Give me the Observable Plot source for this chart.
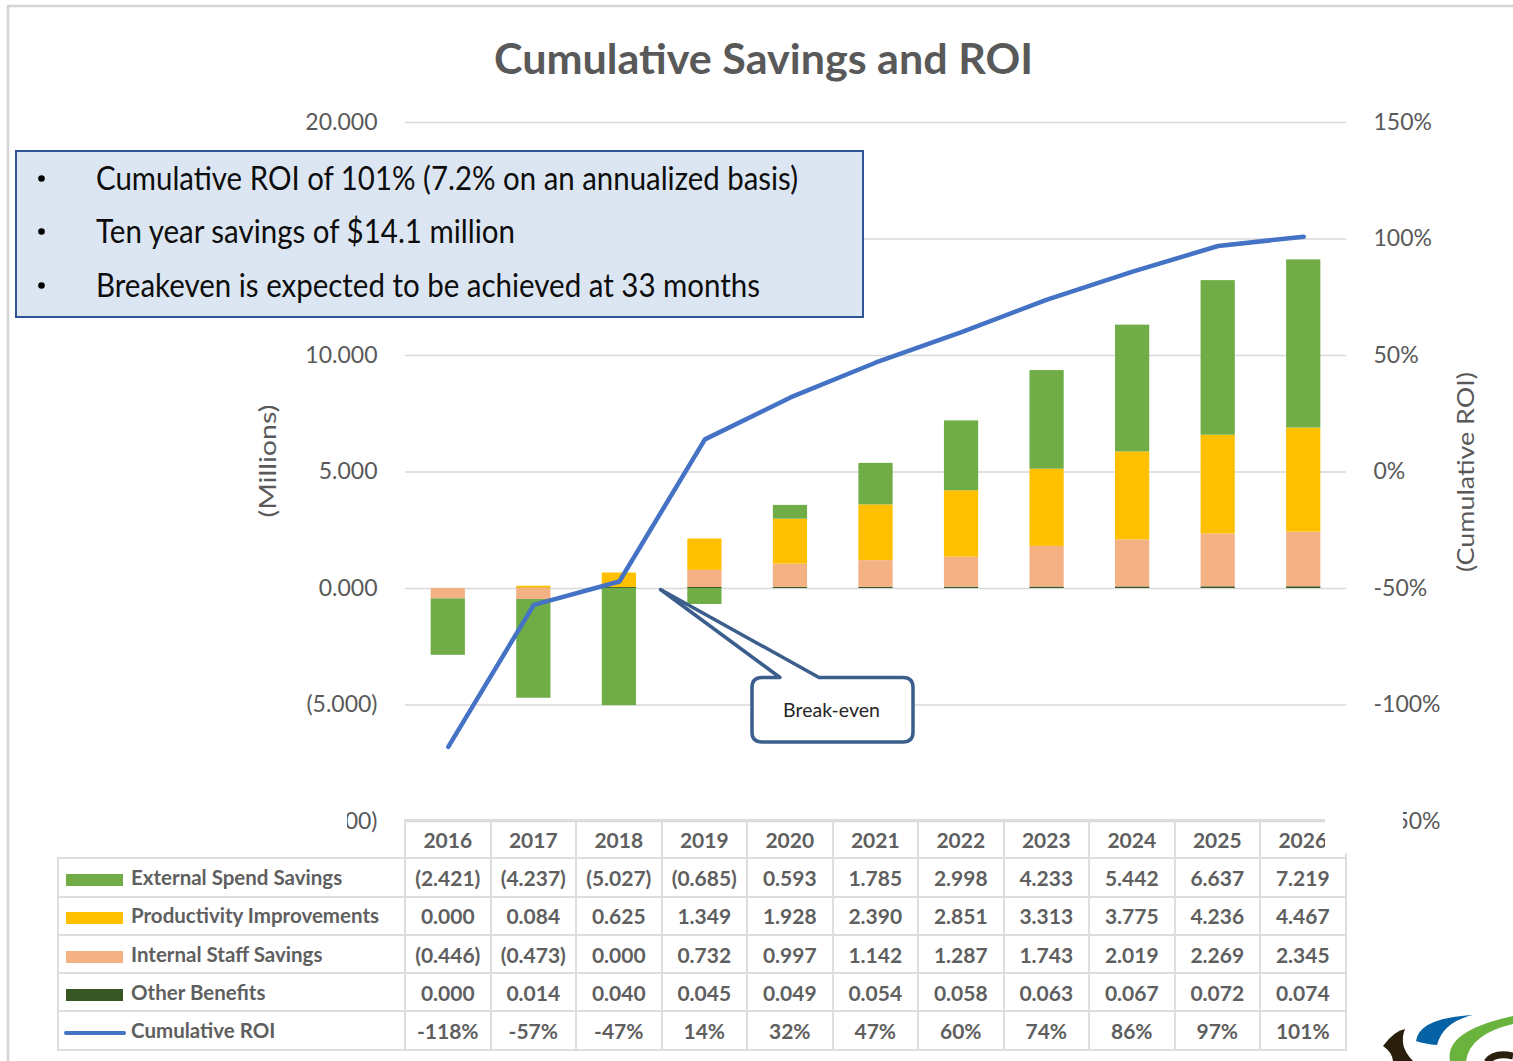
<!DOCTYPE html>
<html>
<head>
<meta charset="utf-8">
<script src="https://cdn.jsdelivr.net/npm/d3@7"></script>
<script src="https://cdn.jsdelivr.net/npm/@observablehq/plot@0.6"></script>
<style>
  body { margin: 0; background: #fff; }
  #wrap { position: relative; width: 1513px; height: 1061px; overflow: hidden; background: #fff; font-family: Lato, "Open Sans", sans-serif; }
  #wrap > svg { position: absolute; left: 0; top: 0; }
  #tbl { position: absolute; left: 57px; top: 819px; border-collapse: collapse; table-layout: fixed; width: 1289px;
         font-family: Lato, "Open Sans", sans-serif; color: #5f5f5f; background: transparent; }
  #tbl td, #tbl th { border: 2px solid #dedede; padding: 0; text-align: center; font-size: 21px; font-weight: 700;
                     white-space: nowrap; overflow: hidden; line-height: 1; }
  #tbl tr { height: 38.3px; }
  #tbl th.blank { border: none; }
  #tbl td.lab { text-align: left; font-size: 20.5px; }
  .sw { display: inline-block; width: 57px; height: 12px; margin-left: 7px; margin-right: 8px; vertical-align: middle; }
  .swl { display: inline-block; width: 62px; height: 4px; border-radius: 2px; margin-left: 5px; margin-right: 5px; vertical-align: middle; }
  #ov { position: absolute; left: 0; top: 0; pointer-events: none; }
</style>
</head>
<body>
<div id="wrap"></div>
<script>
// ---------------- data ----------------
const years = [2016, 2017, 2018, 2019, 2020, 2021, 2022, 2023, 2024, 2025, 2026];
const externalSpendSavings     = [-2.421, -4.237, -5.027, -0.685, 0.593, 1.785, 2.998, 4.233, 5.442, 6.637, 7.219];
const productivityImprovements = [0.000, 0.084, 0.625, 1.349, 1.928, 2.390, 2.851, 3.313, 3.775, 4.236, 4.467];
const internalStaffSavings     = [-0.446, -0.473, 0.000, 0.732, 0.997, 1.142, 1.287, 1.743, 2.019, 2.269, 2.345];
const otherBenefits            = [0.000, 0.014, 0.040, 0.045, 0.049, 0.054, 0.058, 0.063, 0.067, 0.072, 0.074];
const cumulativeROI            = [-118, -57, -47, 14, 32, 47, 60, 74, 86, 97, 101];

const seriesNames  = ["External Spend Savings", "Productivity Improvements", "Internal Staff Savings", "Other Benefits"];
const seriesColors = ["#70ad47", "#ffc000", "#f4b183", "#375623"];
const stackOrder   = ["Other Benefits", "Internal Staff Savings", "Productivity Improvements", "External Spend Savings"];
const roiName  = "Cumulative ROI";
const roiColor = "#4472c4";

const gridTicks    = [-10, -5, 0, 5, 10, 15, 20];
const millionTicks = [-10, -5, 0, 5, 10, 20];          // 15.000 is hidden behind the text box in the reference
const roiTicks     = [-150, -100, -50, 0, 50, 100, 150];

const titleText = "Cumulative Savings and ROI";
const bulletLines = [
  "Cumulative ROI of 101% (7.2% on an annualized basis)",
  "Ten year savings of $14.1 million",
  "Breakeven is expected to be achieved at 33 months"
];
const calloutText = "Break-even";
const leftAxisTitle = "(Millions)";
const rightAxisTitle = "(Cumulative ROI)";

// ---------------- derived tables ----------------
const seriesValues = [externalSpendSavings, productivityImprovements, internalStaffSavings, otherBenefits];
const rows = stackOrder.flatMap(name => {
  const vals = seriesValues[seriesNames.indexOf(name)];
  return years.map((year, i) => ({year, series: name, value: vals[i]}));
});
const roiRows = years.map((year, i) => ({year, roi: cumulativeROI[i]}));
// ROI (%) mapped onto the millions axis: -150% ↔ -10, 150% ↔ 20
const roiToY = r => 5 + r / 10;
const yToRoi = y => Math.round((y - 5) * 10);

const fmtM = v => v < 0 ? `(${d3.format(".3f")(-v)})` : d3.format(".3f")(v);

// ---------------- chart ----------------
const chart = Plot.plot({
  width: 1513, height: 1061,
  marginTop: 122, marginBottom: 240, marginLeft: 405, marginRight: 167,
  style: {fontFamily: "Lato, 'Open Sans', sans-serif", color: "#595959", background: "transparent", overflow: "visible"},
  x: {type: "band", domain: years, paddingInner: 0.6, paddingOuter: 0.3, round: false, axis: null},
  y: {domain: [-10, 20]},
  color: {domain: seriesNames, range: seriesColors},
  marks: [
    Plot.gridY(gridTicks, {stroke: "#d9d9d9", strokeOpacity: 1, strokeWidth: 1.6}),
    Plot.axisY(millionTicks, {anchor: "left", tickSize: 0, tickPadding: 28, tickFormat: fmtM, fontSize: 23, label: null}),
    Plot.axisY(roiTicks.map(roiToY), {anchor: "right", tickSize: 0, tickPadding: 27, tickFormat: v => `${yToRoi(v)}%`, fontSize: 23, label: null}),
    Plot.barY(rows, Plot.stackY({x: "year", y: "value", fill: "series"})),
    Plot.line(roiRows, {x: "year", y: d => roiToY(d.roi), stroke: roiColor, strokeWidth: 4.5, strokeLinejoin: "round"})
  ]
});
const wrap = document.getElementById("wrap");
wrap.appendChild(chart);

// ---------------- data table (legend) ----------------
const tbl = document.createElement("table");
tbl.id = "tbl";
const cg = document.createElement("colgroup");
cg.innerHTML = `<col style="width:347px">` + years.map(() => `<col style="width:85.5px">`).join("");
tbl.appendChild(cg);
const fmtT = v => v < 0 ? `(${(-v).toFixed(3)})` : v.toFixed(3);
let html = `<tr><th class="blank"></th>${years.map(y => `<th>${y}</th>`).join("")}</tr>`;
seriesNames.forEach((name, k) => {
  html += `<tr><td class="lab"><span class="sw" style="background:${seriesColors[k]}"></span>${name}</td>` +
          seriesValues[k].map(v => `<td>${fmtT(v)}</td>`).join("") + `</tr>`;
});
html += `<tr><td class="lab"><span class="swl" style="background:${roiColor}"></span>${roiName}</td>` +
        cumulativeROI.map(v => `<td>${v}%</td>`).join("") + `</tr>`;
tbl.insertAdjacentHTML("beforeend", html);
wrap.appendChild(tbl);

// ---------------- overlays (title, text box, callout, axis titles, logo) ----------------
const NS = "http://www.w3.org/2000/svg";
const ov = document.createElementNS(NS, "svg");
ov.setAttribute("id", "ov");
ov.setAttribute("width", 1513);
ov.setAttribute("height", 1061);
const boxBaselines = [189.5, 242.5, 296.5];
const boxWidths = [702, 419, 664];
ov.innerHTML = `
  <rect x="260" y="804" width="87" height="34" fill="#fff"/>
  <rect x="1325" y="804" width="78" height="49" fill="#fff"/>
  <rect x="16" y="151" width="847" height="166" fill="#dce6f2" stroke="#2f5597" stroke-width="2"/>
  ${bulletLines.map((t, i) => `
    <circle cx="41.5" cy="${boxBaselines[i] - 11}" r="3.3" fill="#000"/>
    <text x="96" y="${boxBaselines[i]}" font-family="Lato, 'Open Sans', sans-serif" font-size="33" fill="#0d0d0d"
      textLength="${boxWidths[i]}" lengthAdjust="spacingAndGlyphs">${t.replace(/&/g, "&amp;")}</text>`).join("")}
  <text x="763.5" y="74" text-anchor="middle" font-family="Lato, 'Open Sans', sans-serif" font-weight="700" font-size="42"
    fill="#595959" textLength="539" lengthAdjust="spacingAndGlyphs">${titleText}</text>
  <text transform="translate(268,461) rotate(-90)" text-anchor="middle" dy="0.35em" font-family="Lato, 'Open Sans', sans-serif"
    font-size="24" fill="#595959" textLength="113" lengthAdjust="spacingAndGlyphs">${leftAxisTitle}</text>
  <text transform="translate(1466,472) rotate(-90)" text-anchor="middle" dy="0.35em" font-family="Lato, 'Open Sans', sans-serif"
    font-size="24" fill="#595959" textLength="200" lengthAdjust="spacingAndGlyphs">${rightAxisTitle}</text>
  <path d="M762,677.5 L780,677.5 L660.5,589.5 L819,677.5 L903,677.5 Q913,677.5 913,687.5 L913,732 Q913,742 903,742 L762,742 Q752,742 752,732 L752,687.5 Q752,677.5 762,677.5 Z"
    fill="#fff" stroke="#3b5e8c" stroke-width="3.5" stroke-linejoin="round"/>
  <text x="831.5" y="717" text-anchor="middle" font-family="Lato, 'Open Sans', sans-serif" font-size="19.5" fill="#262626">${calloutText}</text>
  <path d="M1383,1046 Q1394,1031 1405,1029 Q1398,1046 1413,1061 L1393,1061 Q1392,1052 1383,1046 Z" fill="#2a1f0d"/>
  <path d="M1416,1041 Q1419,1018 1473,1015 Q1443,1022 1437,1045 Q1425,1044 1416,1041 Z" fill="#0563a5"/>
  <path d="M1450,1061 Q1444,1031 1513,1016 L1513,1024 Q1470,1034 1466,1061 Z" fill="#6ab43e"/>
  <path d="M1487,1062 Q1494,1052 1513,1056" fill="none" stroke="#2a1f0d" stroke-width="7"/>
  <line x1="8" y1="5" x2="8" y2="1061" stroke="#d4d4d4" stroke-width="2.5"/>
  <line x1="7" y1="6" x2="1513" y2="6" stroke="#d4d4d4" stroke-width="2.5"/>
`;
wrap.appendChild(ov);
</script>
</body>
</html>
